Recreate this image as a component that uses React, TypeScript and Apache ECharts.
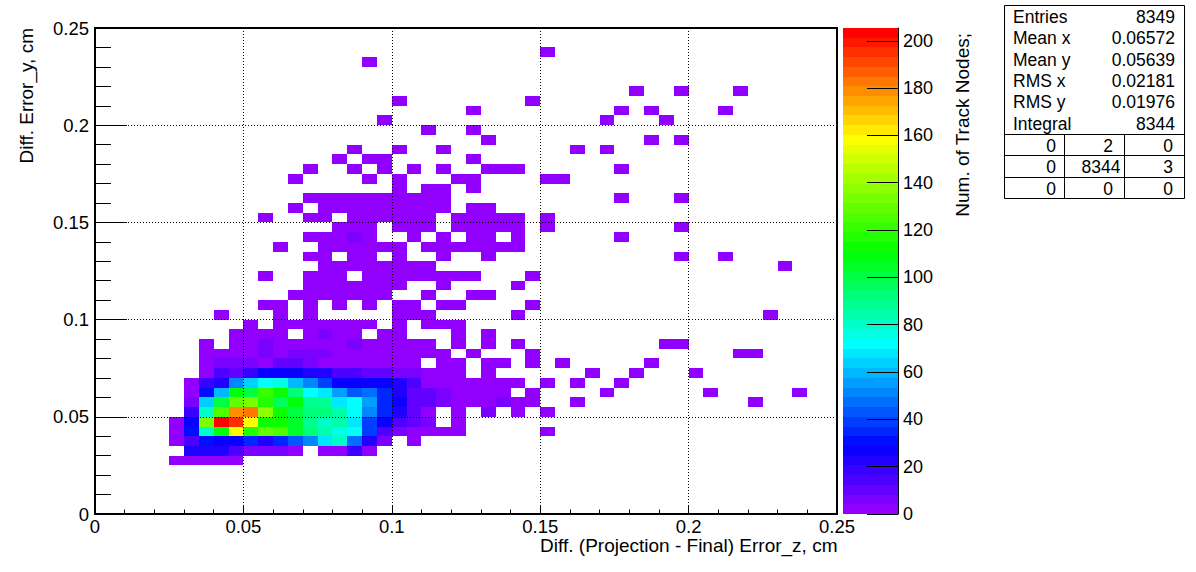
import React, { useEffect, useRef } from "react";
import * as echarts from "echarts";

const FONT = "'Liberation Sans', Arial, sans-serif";
const BIN = 0.005;
const Z_MAX = 205.4;
const Z_LEVELS = 50;

const xTicks = [0, 0.05, 0.1, 0.15, 0.2, 0.25];
const colourStops: [number, number[]][] = [
  [0, [145, 0, 255]],
  [27, [0, 0, 255]],
  [71, [0, 255, 255]],
  [111, [0, 255, 0]],
  [160, [255, 255, 0]],
  [205.4, [255, 0, 0]],
];

// Dense core of the histogram: columns 5..24, rows 5..15
const coreFirstCol = 5;
const coreRows: Record<number, number[]> = {
  5: [2, 2, 2, 2, 2, 0, 0, 0, 0, 0, 0, 0, 0, 0, 0, 0, 0, 0, 0, 0],
  6: [0, 22, 23, 22, 14, 8, 5, 6, 3, 0, 3, 3, 18, 3, 0, 0, 0, 0, 0, 0],
  7: [2, 16, 30, 27, 27, 33, 23, 34, 42, 52, 66, 82, 47, 24, 6, 0, 2, 0, 0, 0],
  8: [2, 30, 82, 110, 160, 118, 128, 124, 106, 92, 84, 74, 70, 40, 15, 8, 4, 3, 2, 2],
  9: [2, 26, 135, 203, 195, 160, 112, 112, 104, 90, 80, 85, 66, 38, 28, 14, 11, 6, 0, 2],
  10: [0, 20, 82, 125, 178, 182, 138, 115, 102, 92, 92, 85, 70, 52, 34, 22, 10, 3, 0, 2],
  11: [0, 6, 65, 100, 130, 135, 118, 98, 110, 90, 90, 67, 72, 54, 36, 25, 12, 12, 6, 4],
  12: [0, 2, 32, 60, 108, 102, 122, 112, 93, 72, 68, 57, 42, 48, 35, 24, 12, 12, 8, 2],
  13: [0, 2, 18, 22, 50, 62, 72, 76, 58, 50, 40, 28, 27, 27, 27, 22, 14, 3, 3, 3],
  14: [0, 0, 2, 16, 12, 18, 27, 28, 28, 21, 21, 16, 14, 10, 10, 6, 6, 2, 2, 2],
  15: [0, 0, 2, 5, 5, 6, 4, 10, 10, 8, 4, 2, 2, 2, 2, 2, 2, 0, 2, 2],
};

// Sparse low-count cells (columns occupied per row, count about 2)
const lowRows: Record<number, number[]> = {
  8: [30],
  10: [26, 28, 30],
  11: [25, 26, 27, 28, 29, 32, 44],
  12: [25, 26, 27, 29, 34, 41, 47],
  13: [25, 26, 27, 28, 30, 32, 35],
  14: [26, 33, 36, 40],
  15: [26, 27, 29, 31, 37],
  16: [7, 8, 9, 10, 11, 12, 13, 14, 15, 16, 17, 18, 19, 20, 21, 22, 23, 25, 29, 43, 44],
  17: [7, 9, 10, 11, 12, 13, 14, 15, 16, 17, 18, 19, 20, 21, 22, 24, 26, 28, 38, 39],
  18: [9, 10, 11, 12, 14, 15, 16, 17, 19, 20, 24, 26],
  19: [10, 12, 13, 14, 15, 16, 17, 18, 20, 22, 23, 24],
  20: [8, 12, 14, 20, 21, 22, 28, 45],
  21: [11, 12, 14, 16, 18, 20, 21, 23, 24, 29],
  22: [13, 14, 15, 16, 17, 18, 19, 22, 25, 26],
  23: [14, 15, 16, 17, 18, 19, 20, 23, 28],
  24: [11, 14, 15, 16, 18, 19, 20, 21, 22, 23, 24, 25, 29],
  25: [15, 16, 17, 18, 19, 20, 21, 22, 46],
  26: [14, 15, 17, 18, 20, 23, 26, 39, 42],
  27: [12, 15, 16, 17, 18, 19, 20, 22, 23, 24, 25, 26, 27, 28],
  28: [14, 15, 16, 17, 18, 21, 23, 25, 26, 28, 35],
  29: [16, 17, 18, 20, 21, 22, 24, 25, 26, 27, 28, 30, 39],
  30: [11, 14, 15, 17, 18, 19, 20, 21, 22, 24, 25, 26, 27, 28, 30],
  31: [13, 15, 16, 17, 18, 19, 20, 21, 22, 23, 25, 26],
  32: [14, 15, 16, 17, 18, 19, 20, 21, 22, 23, 35, 39],
  33: [20, 22, 23, 25],
  34: [13, 18, 20, 24, 25, 30, 31],
  35: [14, 17, 19, 21, 23, 26, 27, 28, 35],
  36: [16, 18, 19, 25],
  37: [17, 20, 23, 32, 34],
  38: [26, 37, 39],
  39: [22, 25],
  40: [19, 34, 38],
  41: [25, 35, 37, 42],
  42: [20, 29],
  43: [36, 39, 43],
  46: [18],
  47: [30],
};

// Cells among the sparse ones that are visibly a little bluer: [row, col, count]
const tintedCells: [number, number, number][] = [
  [28, 17, 6],
  [18, 15, 6],
  [17, 11, 6],
  [17, 17, 6],
  [16, 11, 6],
  [16, 13, 5],
  [16, 14, 5],
  [16, 15, 5],
  [11, 27, 6],
  [10, 26, 8],
];

const statLabels = ["Entries", "Mean x", "Mean y", "RMS x", "RMS y", "Integral"];
const statValues = ["8349", "0.06572", "0.05639", "0.02181", "0.01976", "8344"];
const overflowTable = [
  ["0", "2", "0"],
  ["0", "8344", "3"],
  ["0", "0", "0"],
];

function colourOf(v: number): string {
  for (let i = 1; i < colourStops.length; i++) {
    const [v0, c0] = colourStops[i - 1];
    const [v1, c1] = colourStops[i];
    if (v <= v1) {
      const t = (v - v0) / (v1 - v0);
      const c = c0.map((a, k) => Math.round(a + (c1[k] - a) * t));
      return `rgb(${c[0]},${c[1]},${c[2]})`;
    }
  }
  return "rgb(255,0,0)";
}
function levelOf(v: number): number {
  return Math.min(Z_LEVELS - 1, Math.floor((v / Z_MAX) * Z_LEVELS));
}
function levelColour(level: number): string {
  return colourOf((level / (Z_LEVELS - 1)) * Z_MAX);
}

function buildCells(): number[][] {
  const map = new Map<string, number>();
  Object.entries(coreRows).forEach(([r, vals]) =>
    vals.forEach((v, i) => {
      if (v > 0) map.set(`${r}:${i + coreFirstCol}`, v);
    })
  );
  Object.entries(lowRows).forEach(([r, cols]) =>
    cols.forEach((c) => map.set(`${r}:${c}`, 2))
  );
  tintedCells.forEach(([r, c, v]) => map.set(`${r}:${c}`, v));
  return Array.from(map.entries()).map(([k, v]) => {
    const [r, c] = k.split(":").map(Number);
    return [c * BIN, r * BIN, v];
  });
}

const text = (
  t: string,
  x: number,
  y: number,
  size: number,
  align: string = "left",
  rotation = 0
) => ({
  type: "text",
  x,
  y,
  rotation,
  silent: true,
  style: {
    text: t,
    fill: "#000",
    font: `${size}px ${FONT}`,
    align,
    verticalAlign: "middle",
  },
});

const line = (x1: number, y1: number, x2: number, y2: number) => ({
  type: "line",
  silent: true,
  shape: { x1, y1, x2, y2 },
  style: { stroke: "#000", lineWidth: 1 },
});

export default function App() {
  const ref = useRef<HTMLDivElement>(null);
  useEffect(() => {
    if (!ref.current) return;
    const chart = echarts.init(ref.current, undefined, { renderer: "svg" });

    const statY = [17, 38, 59.5, 81, 102, 124];
    const tableY = [146, 167, 189];
    const tableCols = [1051, 1108, 1168];

    const graphic: any[] = [
      text("Diff. (Projection - Final) Error_z, cm", 837.5, 545.5, 19, "right"),
      text("Diff. Error_y, cm", 26.5, 28, 19, "right", Math.PI / 2),
      text("Num. of Track Nodes;", 962.5, 33, 19, "right", Math.PI / 2),
      {
        type: "rect",
        silent: true,
        shape: { x: 1004.5, y: 5.5, width: 180, height: 193 },
        style: { fill: "#fff", stroke: "#000", lineWidth: 1 },
      },
      line(1004.5, 134.5, 1184.5, 134.5),
      line(1004.5, 155.5, 1184.5, 155.5),
      line(1004.5, 177.5, 1184.5, 177.5),
      line(1064.5, 134.5, 1064.5, 198.5),
      line(1124.5, 134.5, 1124.5, 198.5),
    ];
    statLabels.forEach((l, i) => {
      graphic.push(text(l, 1013, statY[i], 17.5, "left"));
      graphic.push(text(statValues[i], 1175, statY[i], 17.5, "right"));
    });
    overflowTable.forEach((row, r) =>
      row.forEach((v, c) => {
        graphic.push(
          text(v, v.length > 1 ? tableCols[c] - 7 : tableCols[c], tableY[r], 17.5, "center")
        );
      })
    );

    const bands = Array.from({ length: Z_LEVELS }, (_, i) => [
      0,
      (i * Z_MAX) / Z_LEVELS,
      i,
    ]);

    chart.setOption({
      animation: false,
      backgroundColor: "#fff",
      graphic,
      grid: [
        {
          left: 95,
          top: 28,
          width: 742,
          height: 486,
          show: true,
          borderColor: "#000",
          borderWidth: 2,
          backgroundColor: "#fff",
        },
        { left: 843, top: 28, width: 55, height: 486, show: false },
      ],
      xAxis: [
        {
          type: "value",
          gridIndex: 0,
          min: 0,
          max: xTicks[xTicks.length - 1],
          interval: 0.05,
          z: 5,
          axisLine: { show: true, onZero: false, lineStyle: { color: "#000", width: 2 } },
          axisTick: { show: true, inside: true, length: 9, lineStyle: { color: "#000", width: 1 } },
          minorTick: { show: true, splitNumber: 5, length: 4.5, lineStyle: { color: "#000", width: 1 } },
          splitLine: { show: true, lineStyle: { color: "#000", width: 1, type: [1, 2] } },
          axisLabel: { color: "#000", fontFamily: FONT, fontSize: 18.5, lineHeight: 15, margin: 5 },
        },
        { type: "value", gridIndex: 1, min: 0, max: 1, show: false },
      ],
      yAxis: [
        {
          type: "value",
          gridIndex: 0,
          min: 0,
          max: 0.25,
          interval: 0.05,
          z: 5,
          axisLine: { show: true, onZero: false, lineStyle: { color: "#000", width: 2 } },
          axisTick: { show: true, inside: true, length: 32, lineStyle: { color: "#000", width: 1 } },
          minorTick: { show: true, splitNumber: 5, length: 16, lineStyle: { color: "#000", width: 1 } },
          splitLine: { show: true, lineStyle: { color: "#000", width: 1, type: [1, 2] } },
          axisLabel: { color: "#000", fontFamily: FONT, fontSize: 18.5, margin: 6 },
        },
        {
          type: "value",
          gridIndex: 1,
          position: "right",
          min: 0,
          max: Z_MAX,
          interval: 20,
          z: 5,
          axisLine: { show: true, onZero: false, lineStyle: { color: "#000", width: 1 } },
          axisTick: { show: true, inside: true, length: 31, lineStyle: { color: "#000", width: 1 } },
          splitLine: { show: false },
          axisLabel: {
            color: "#000",
            fontFamily: FONT,
            fontSize: 18,
            margin: 5,
            showMaxLabel: false,
          },
        },
      ],
      series: [
        {
          type: "custom",
          xAxisIndex: 0,
          yAxisIndex: 0,
          clip: false,
          data: buildCells(),
          encode: { x: 0, y: 1 },
          renderItem: (_: any, api: any) => {
            const a = api.coord([api.value(0), api.value(1)]);
            const b = api.coord([api.value(0) + BIN, api.value(1) + BIN]);
            const x = Math.round(a[0]);
            const y = Math.round(b[1]);
            return {
              type: "rect",
              shape: { x, y, width: Math.round(b[0]) - x, height: Math.round(a[1]) - y },
              style: { fill: levelColour(levelOf(api.value(2))) },
            };
          },
        },
        {
          type: "custom",
          xAxisIndex: 1,
          yAxisIndex: 1,
          clip: false,
          data: bands,
          encode: { x: 0, y: 1 },
          renderItem: (_: any, api: any) => {
            const a = api.coord([0, api.value(1)]);
            const b = api.coord([1, api.value(1) + Z_MAX / Z_LEVELS]);
            const x = Math.round(a[0]);
            const y = Math.round(b[1]);
            return {
              type: "rect",
              shape: { x, y, width: Math.round(b[0]) - x, height: Math.round(a[1]) - y },
              style: { fill: levelColour(api.value(2)) },
            };
          },
        },
      ],
    });
    return () => chart.dispose();
  }, []);
  return (
    <div
      ref={ref}
      style={{ position: "fixed", left: 0, top: 0, width: 1196, height: 572, background: "#fff" }}
    />
  );
}
